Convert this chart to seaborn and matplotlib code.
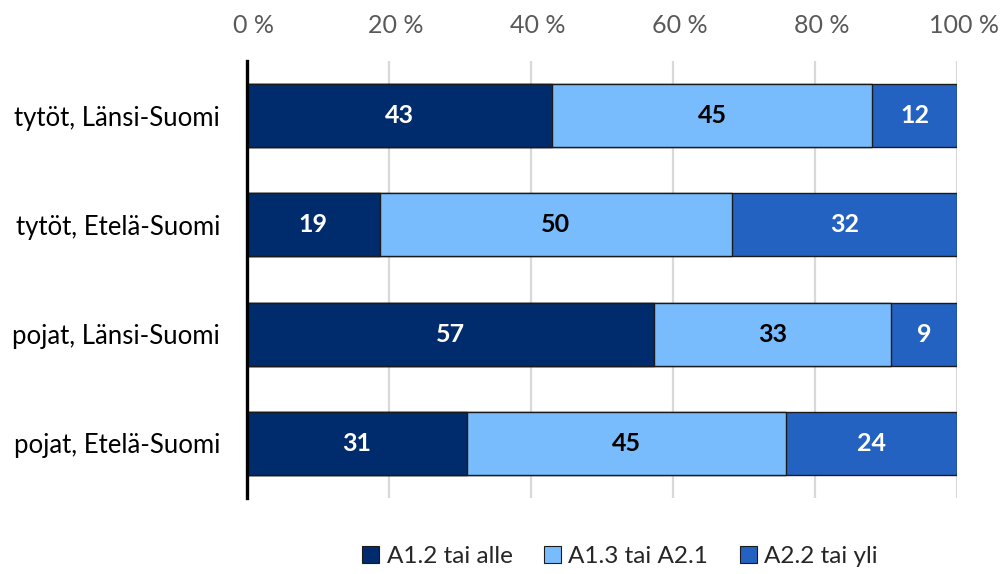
import numpy as np
import pandas as pd
import matplotlib
matplotlib.use("Agg")
import matplotlib.pyplot as plt
import matplotlib.transforms as mtransforms
import seaborn as sns
from matplotlib.patches import Patch

categories = ["tytöt, Länsi-Suomi", "tytöt, Etelä-Suomi", "pojat, Länsi-Suomi", "pojat, Etelä-Suomi"]
series_names = ["A1.2 tai alle", "A1.3 tai A2.1", "A2.2 tai yli"]
a12_tai_alle = [43.0, 18.8, 57.4, 31.0]
a13_tai_a21 = [45.1, 49.5, 33.4, 45.0]
a22_tai_yli = [11.9, 31.7, 9.2, 24.0]
tick_values = [0, 20, 40, 60, 80, 100]
tick_labels = ["0 %", "20 %", "40 %", "60 %", "80 %", "100 %"]

colors = ["#002B6C", "#78BCFD", "#2462C2"]
label_colors = ["white", "black", "white"]

sns.set_theme(style="white")
plt.rcParams["font.family"] = ["Lato", "DejaVu Sans"]

df = pd.DataFrame({"kategoria": categories,
                   series_names[0]: a12_tai_alle,
                   series_names[1]: a13_tai_a21,
                   series_names[2]: a22_tai_yli})
parts = df[series_names].to_numpy()
cum = np.cumsum(parts, axis=1)

fig = plt.figure(figsize=(10.05, 5.74), dpi=100)
ax = fig.add_axes([0.2453, 0.1324, 0.7074, 0.7613])

# stacked bars: draw cumulative totals from the widest down
for j in reversed(range(len(series_names))):
    sns.barplot(x=cum[:, j], y=df["kategoria"], orient="h", color=colors[j],
                width=0.575, edgecolor="#1a1a1a", linewidth=1.0,
                saturation=1, ax=ax, zorder=2)

for i in range(len(categories)):
    left = 0
    for j in range(len(series_names)):
        v = parts[i, j]
        ax.text(left + v / 2, i, f"{v:.0f}", ha="center", va="center",
                color=label_colors[j], fontsize=18, fontweight="bold", zorder=3)
        left += v

ax.set_xlim(0, 100.1)
ax.set_ylim(3.5, -0.5)
ax.xaxis.tick_top()
ax.set_xticks(tick_values)
ax.set_xticklabels(tick_labels, color="#595959", fontsize=18)
ax.tick_params(axis="x", length=0, pad=17)
ax.tick_params(axis="y", length=0, pad=19, labelsize=18.5, labelcolor="black")
# nudge the percent labels slightly to the right of their gridlines
shift = mtransforms.ScaledTranslation(7 / 100, 0, fig.dpi_scale_trans)
for lbl in ax.get_xticklabels():
    lbl.set_transform(lbl.get_transform() + shift)
ax.set_xlabel("")
ax.set_ylabel("")
for xv in tick_values[1:]:
    ax.axvline(xv, color="#d9d9d9", linewidth=1.6, zorder=0)
for s in ["top", "right", "bottom"]:
    ax.spines[s].set_visible(False)
ax.spines["left"].set_color("black")
ax.spines["left"].set_linewidth(2.4)
ax.spines["left"].set_zorder(4)

handles = [Patch(facecolor=c, edgecolor="#1a1a1a", linewidth=0.8) for c in colors]
fig.legend(handles, series_names, loc="center", bbox_to_anchor=(0.617, 0.03),
           ncol=3, frameon=False, fontsize=17.5, handlelength=0.7, handleheight=0.7,
           handletextpad=0.3, columnspacing=1.3)

fig.savefig("out.png", dpi=100)
